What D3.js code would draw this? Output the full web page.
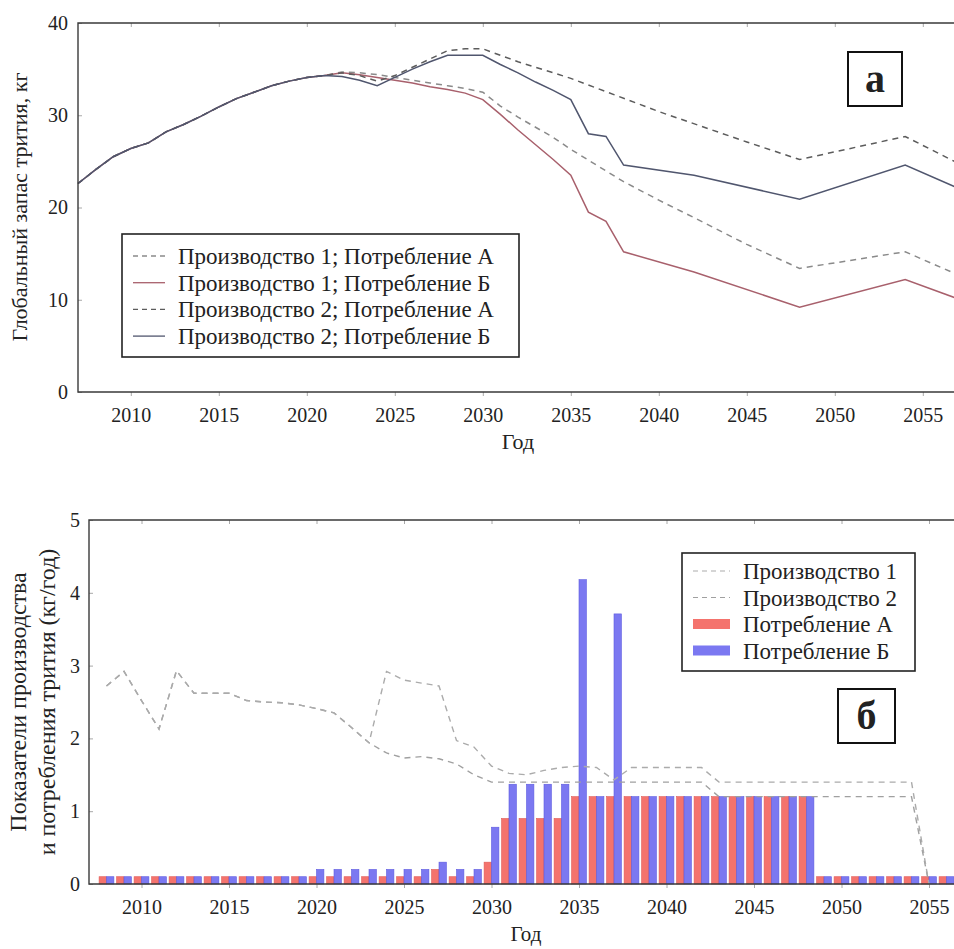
<!DOCTYPE html>
<html>
<head>
<meta charset="utf-8">
<script src="https://cdn.jsdelivr.net/npm/d3@7"></script>
<style>
  body{margin:0;background:#fff}
  svg text{font-family:"Liberation Serif","DejaVu Serif","Times New Roman",serif;fill:#222}
</style>
</head>
<body>
<svg id="chart" width="954" height="949"></svg>
<script>
// ---------- DATA: panel а (global tritium inventory, kg) ----------------
const X_TICKS = [2010,2015,2020,2025,2030,2035,2040,2045,2050,2055];
const Y_TICKS_A = [0,10,20,30,40];
const Y_TICKS_B = [0,1,2,3,4,5];

// shared start of all four curves
const baseYears = [2007,2008,2009,2010,2011,2012,2013,2014,2015,2016,2017,2018,2019,2020,2021];
const baseVals  = [22.6,24.1,25.5,26.4,27.0,28.2,29.0,29.9,30.9,31.8,32.5,33.2,33.7,34.1,34.3];

const p1aYears = [2022,2023,2024,2025,2026,2027,2028,2029,2030,2031,2032,2034,2035,2038,2040,2042,2045,2048,2054,2057];
const p1aVals  = [34.7,34.6,34.4,34.1,33.8,33.5,33.2,32.9,32.5,31.0,29.8,27.6,26.3,22.8,20.8,18.9,16.0,13.4,15.2,12.7];

const p1bYears = [2022,2023,2024,2025,2026,2027,2028,2029,2030,2031,2032,2033,2034,2035,2036,2037,2038,2042,2048,2054,2057];
const p1bVals  = [34.6,34.4,34.1,33.8,33.5,33.1,32.8,32.4,31.7,30.1,28.4,26.8,25.2,23.5,19.5,18.5,15.2,13.0,9.2,12.2,10.1];

const p2aYears = [2022,2023,2024,2025,2026,2027,2028,2029,2030,2032,2035,2040,2045,2048,2054,2057];
const p2aVals  = [34.6,34.3,33.7,34.3,35.2,36.1,37.0,37.2,37.2,35.8,34.0,30.4,27.1,25.2,27.7,24.8];

const p2bYears = [2022,2023,2024,2025,2026,2027,2028,2029,2030,2031,2032,2033,2034,2035,2036,2037,2038,2042,2048,2054,2057];
const p2bVals  = [34.2,33.8,33.2,34.1,35.0,35.8,36.5,36.5,36.5,35.5,34.6,33.6,32.7,31.7,28.0,27.7,24.6,23.5,20.9,24.6,22.1];

const seriesA = [
  {name:'Производство 1; Потребление А', years:p1aYears, vals:p1aVals, color:'#8a8a8a', dash:'6,5'},
  {name:'Производство 1; Потребление Б', years:p1bYears, vals:p1bVals, color:'#a8606c', dash:null},
  {name:'Производство 2; Потребление А', years:p2aYears, vals:p2aVals, color:'#5c5c5c', dash:'6,5'},
  {name:'Производство 2; Потребление Б', years:p2bYears, vals:p2bVals, color:'#50566e', dash:null}
];

// ---------- DATA: panel б (rates, kg/year) -----------------------------
const barYears = [2008,2009,2010,2011,2012,2013,2014,2015,2016,2017,2018,2019,2020,2021,2022,2023,2024,2025,2026,2027,2028,2029,2030,2031,2032,2033,2034,2035,2036,2037,2038,2039,2040,2041,2042,2043,2044,2045,2046,2047,2048,2049,2050,2051,2052,2053,2054,2055,2056];
const consA = [0.1,0.1,0.1,0.1,0.1,0.1,0.1,0.1,0.1,0.1,0.1,0.1, 0.1,0.1,0.1,0.1,0.1,0.1,0.1, 0.2, 0.1,0.1, 0.3, 0.9,0.9,0.9,0.9, 1.2,1.2,1.2,1.2,1.2,1.2,1.2,1.2,1.2,1.2,1.2,1.2,1.2,1.2, 0.1,0.1,0.1,0.1,0.1,0.1,0.1,0.1];
const consB = [0.1,0.1,0.1,0.1,0.1,0.1,0.1,0.1,0.1,0.1,0.1,0.1, 0.2,0.2,0.2,0.2,0.2,0.2,0.2, 0.3, 0.2,0.2, 0.78, 1.37,1.37,1.37,1.37, 4.18,1.2,3.71,1.2,1.2,1.2,1.2,1.2,1.2,1.2,1.2,1.2,1.2,1.2, 0.1,0.1,0.1,0.1,0.1,0.1,0.1,0.1];

const prodYears = [2008,2009,2010,2011,2012,2013,2014,2015,2016,2017,2018,2019,2020,2021,2022,2023,2024,2025,2026,2027,2028,2029,2030,2031,2032,2033,2034,2035,2036,2037,2038,2039,2040,2041,2042,2043,2044,2045,2046,2047,2048,2049,2050,2051,2052,2053,2054,2055];
const prod1 = [2.72,2.92,2.52,2.13,2.93,2.62,2.62,2.62,2.52,2.50,2.49,2.46,2.41,2.35,2.15,1.94,2.92,2.80,2.76,2.72,1.97,1.88,1.62,1.52,1.50,1.56,1.60,1.62,1.60,1.43,1.60,1.60,1.60,1.60,1.60,1.40,1.40,1.40,1.40,1.40,1.40,1.40,1.40,1.40,1.40,1.40,1.40,0];
const prod2 = [2.72,2.92,2.52,2.13,2.93,2.62,2.62,2.62,2.52,2.50,2.49,2.46,2.41,2.35,2.15,1.94,1.80,1.73,1.75,1.72,1.65,1.50,1.40,1.40,1.40,1.40,1.40,1.40,1.40,1.40,1.40,1.40,1.40,1.40,1.40,1.20,1.20,1.20,1.20,1.20,1.20,1.20,1.20,1.20,1.20,1.20,1.20,0];

const C = {axis:'#3a3a3a', tick:'#a8a8a8', prod1:'#ababab', prod2:'#a0a0a0',
           barA:'#f4736d', barAs:'#e05a55', barB:'#7b78f1', barBs:'#5d5ae0'};
const TICK_FS = 20, TITLE_FS = 22, LEG_FS = 23;

const svg = d3.select('#chart');
svg.append('rect').attr('width',954).attr('height',949).attr('fill','#fff');

// ---------- helpers -----------------------------------------------------
function frame(g, x, y, x0, x1, y0, y1, yTicks, yPad){
  g.append('g').attr('transform',`translate(0,${y0})`)
    .call(d3.axisBottom(x).tickValues(X_TICKS).tickFormat(d3.format('d')).tickSizeInner(4).tickSizeOuter(0).tickPadding(12))
    .call(s=>{s.select('.domain').remove();
              s.selectAll('line').attr('stroke',C.tick);
              s.selectAll('text').attr('font-size',TICK_FS).attr('fill','#222');});
  g.append('g').attr('transform',`translate(0,${y1})`)
    .call(d3.axisBottom(x).tickValues(X_TICKS).tickFormat('').tickSizeInner(4).tickSizeOuter(0))
    .call(s=>{s.select('.domain').remove(); s.selectAll('line').attr('stroke',C.tick);});
  g.append('g').attr('transform',`translate(${x0},0)`)
    .call(d3.axisLeft(y).tickValues(yTicks).tickFormat(d3.format('d')).tickSizeInner(-4).tickSizeOuter(0).tickPadding(yPad))
    .call(s=>{s.select('.domain').remove();
              s.selectAll('line').attr('stroke',C.tick);
              s.selectAll('text').attr('font-size',TICK_FS).attr('fill','#222');});
  g.append('path').attr('fill','none').attr('stroke',C.axis).attr('stroke-width',1.4)
    .attr('d',`M${x1},${y1}H${x0}V${y0}H${x1}`);
}

// ---------- PANEL а ------------------------------------------------------
const xa = d3.scaleLinear().domain([2007,2057]).range([78,958]);
const ya = d3.scaleLinear().domain([0,40]).range([392,23]);
const ga = svg.append('g');

const lineA = d3.line().x(d=>xa(d[0])).y(d=>ya(d[1]));
seriesA.forEach(s=>{
  const pts = baseYears.map((yr,i)=>[yr,baseVals[i]]).concat(s.years.map((yr,i)=>[yr,s.vals[i]]));
  ga.append('path').datum(pts).attr('fill','none').attr('stroke',s.color)
    .attr('stroke-width',1.5).attr('stroke-dasharray',s.dash).attr('d',lineA);
});
frame(ga, xa, ya, 78, 958, 392, 23, Y_TICKS_A, 10);

ga.append('text').attr('x',518).attr('y',449).attr('text-anchor','middle').attr('font-size',TITLE_FS).text('Год');
ga.append('text').attr('transform','translate(27,207) rotate(-90)').attr('text-anchor','middle')
  .attr('font-size',TITLE_FS).text('Глобальный запас трития, кг');

// legend а
const lgA = ga.append('g');
lgA.append('rect').attr('x',122).attr('y',234).attr('width',397).attr('height',123)
  .attr('fill','#fff').attr('stroke','#222').attr('stroke-width',1.6);
seriesA.forEach((s,i)=>{
  const yy = 256 + i*26.7;
  lgA.append('line').attr('x1',133).attr('x2',165).attr('y1',yy).attr('y2',yy)
    .attr('stroke',s.color).attr('stroke-width',1.3).attr('stroke-dasharray',s.dash ? '5,4' : null);
  lgA.append('text').attr('x',178).attr('y',yy).attr('dy','0.35em').attr('font-size',LEG_FS).text(s.name);
});
ga.append('rect').attr('x',848).attr('y',52).attr('width',54).attr('height',54)
  .attr('fill','#fff').attr('stroke','#111').attr('stroke-width',2);
ga.append('text').attr('x',875).attr('y',78).attr('dy','0.35em').attr('text-anchor','middle')
  .attr('font-size',40).attr('font-weight','bold').attr('fill','#111').text('а');

// ---------- PANEL б ------------------------------------------------------
const xb = d3.scaleLinear().domain([2007,2057]).range([89,964]);
const yb = d3.scaleLinear().domain([0,5]).range([884,520]);
const gb = svg.append('g');
const BW = 7.4;

gb.append('g').selectAll('rect').data(barYears).join('rect')
  .attr('x',d=>xb(d)-BW).attr('width',BW)
  .attr('y',(d,i)=>yb(consA[i])).attr('height',(d,i)=>yb(0)-yb(consA[i]))
  .attr('fill',C.barA).attr('stroke',C.barAs).attr('stroke-width',0.6);
gb.append('g').selectAll('rect').data(barYears).join('rect')
  .attr('x',d=>xb(d)).attr('width',BW)
  .attr('y',(d,i)=>yb(consB[i])).attr('height',(d,i)=>yb(0)-yb(consB[i]))
  .attr('fill',C.barB).attr('stroke',C.barBs).attr('stroke-width',0.6);

const lineB = d3.line().x((d,i)=>xb(prodYears[i])).y(d=>yb(d));
gb.append('path').datum(prod2).attr('fill','none').attr('stroke',C.prod2)
  .attr('stroke-width',1.4).attr('stroke-dasharray','6,5').attr('d',lineB);
gb.append('path').datum(prod1).attr('fill','none').attr('stroke',C.prod1)
  .attr('stroke-width',1.4).attr('stroke-dasharray','6,5').attr('d',lineB);

frame(gb, xb, yb, 89, 964, 884, 520, Y_TICKS_B, 9);

gb.append('text').attr('x',526).attr('y',941).attr('text-anchor','middle').attr('font-size',21).text('Год');
gb.append('text').attr('transform','translate(26,702) rotate(-90)').attr('text-anchor','middle')
  .attr('font-size',24).text('Показатели производства');
gb.append('text').attr('transform','translate(55,702) rotate(-90)').attr('text-anchor','middle')
  .attr('font-size',24).text('и потребления трития (кг/год)');

// legend б
const lgB = gb.append('g');
lgB.append('rect').attr('x',682).attr('y',553).attr('width',233).attr('height',118)
  .attr('fill','#fff').attr('stroke','#222').attr('stroke-width',1.6);
const legB = [
  {name:'Производство 1', kind:'line', color:C.prod1},
  {name:'Производство 2', kind:'line', color:C.prod2},
  {name:'Потребление А', kind:'bar', color:C.barA},
  {name:'Потребление Б', kind:'bar', color:C.barB}
];
legB.forEach((s,i)=>{
  const yy = 571 + i*26.5;
  if(s.kind==='line'){
    lgB.append('line').attr('x1',693).attr('x2',730).attr('y1',yy).attr('y2',yy)
      .attr('stroke',s.color).attr('stroke-width',1.2).attr('stroke-dasharray','5,4');
  } else {
    lgB.append('rect').attr('x',693).attr('y',yy-5).attr('width',37).attr('height',10).attr('fill',s.color);
  }
  lgB.append('text').attr('x',743).attr('y',yy).attr('dy','0.35em').attr('font-size',LEG_FS).text(s.name);
});
gb.append('rect').attr('x',838).attr('y',689).attr('width',57).attr('height',54)
  .attr('fill','#fff').attr('stroke','#111').attr('stroke-width',2);
gb.append('text').attr('x',866.5).attr('y',715).attr('dy','0.35em').attr('text-anchor','middle')
  .attr('font-size',40).attr('font-weight','bold').attr('fill','#111').text('б');
</script>
</body>
</html>
